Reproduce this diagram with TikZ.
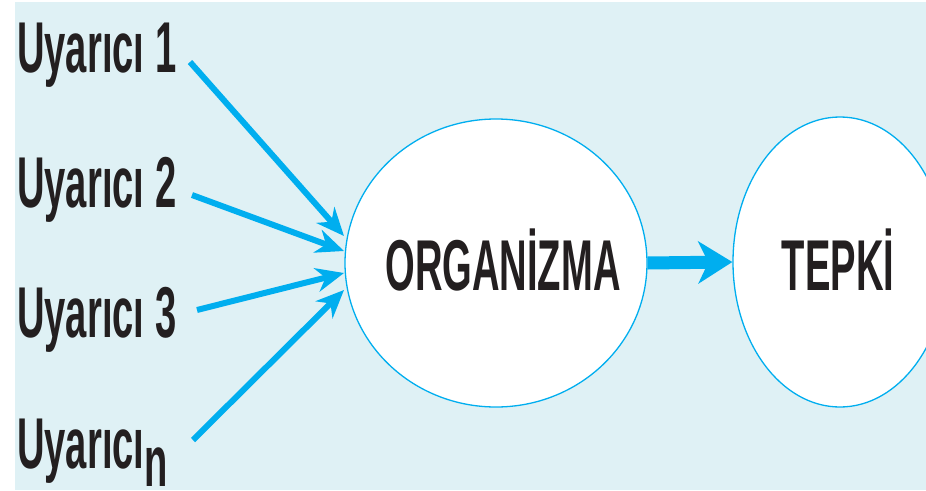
\documentclass[tikz,border=0pt]{standalone}
\usepackage{fontspec}
\usetikzlibrary{arrows.meta,shapes.geometric}
\newfontfamily\condfont[FakeStretch=0.53]{Liberation Sans}
\definecolor{bgblue}{HTML}{DFF1F5}
\definecolor{arrcyan}{HTML}{00AEEF}
\definecolor{inkblack}{HTML}{231F20}
\begin{document}
\begin{tikzpicture}[x=1pt,y=-1pt,
  lbl/.style={inner sep=0pt,text=inkblack,font=\condfont\bfseries\fontsize{72}{72}\selectfont},
  bubble/.style={ellipse,draw=arrcyan,line width=1.3pt,fill=white,inner sep=0pt},
  inarrow/.style={draw=arrcyan,line width=6pt,-{Stealth[length=28pt,width=24pt,inset=9pt]}},
  bigarrow/.style={draw=arrcyan,line width=13pt,-{Stealth[length=34pt,width=42pt,inset=10pt]}}]
\useasboundingbox (0,0) rectangle (926,490);
\fill[white] (0,0) rectangle (926,490);
\fill[bgblue] (15,2) rectangle (926,490);
\begin{scope}
\clip (0,0) rectangle (926,490);
\node[bubble,minimum width=302pt,minimum height=288pt] (org) at (496,263) {};
\node[bubble,minimum width=214pt,minimum height=290pt] (tep) at (840,262) {};
\end{scope}
\node[lbl,anchor=base] (orgt) at (503,290) {ORGANİZMA};
\node[lbl,anchor=base] (tept) at (838,290) {TEPKİ};
\node[lbl,anchor=base west] (u1) at (17,72) {Uyarıcı 1};
\node[lbl,anchor=base west] (u2) at (17,207) {Uyarıcı 2};
\node[lbl,anchor=base west] (u3) at (17,337) {Uyarıcı 3};
\node[lbl,anchor=base west] (un) at (17,468) {Uyarıcı\raisebox{-18pt}{n}};
\coordinate (s1) at (190,62);
\coordinate (s2) at (192,195);
\coordinate (s3) at (197,310);
\coordinate (s4) at (193,440);
\coordinate (e1) at (344,236);
\coordinate (e2) at (344,251);
\coordinate (e3) at (344,273);
\coordinate (e4) at (344,290);
\draw[inarrow] (s1) -- (e1);
\draw[inarrow] (s2) -- (e2);
\draw[inarrow] (s3) -- (e3);
\draw[inarrow] (s4) -- (e4);
\draw[bigarrow] (org.east) -- (tep.west);
\end{tikzpicture}
\end{document}
